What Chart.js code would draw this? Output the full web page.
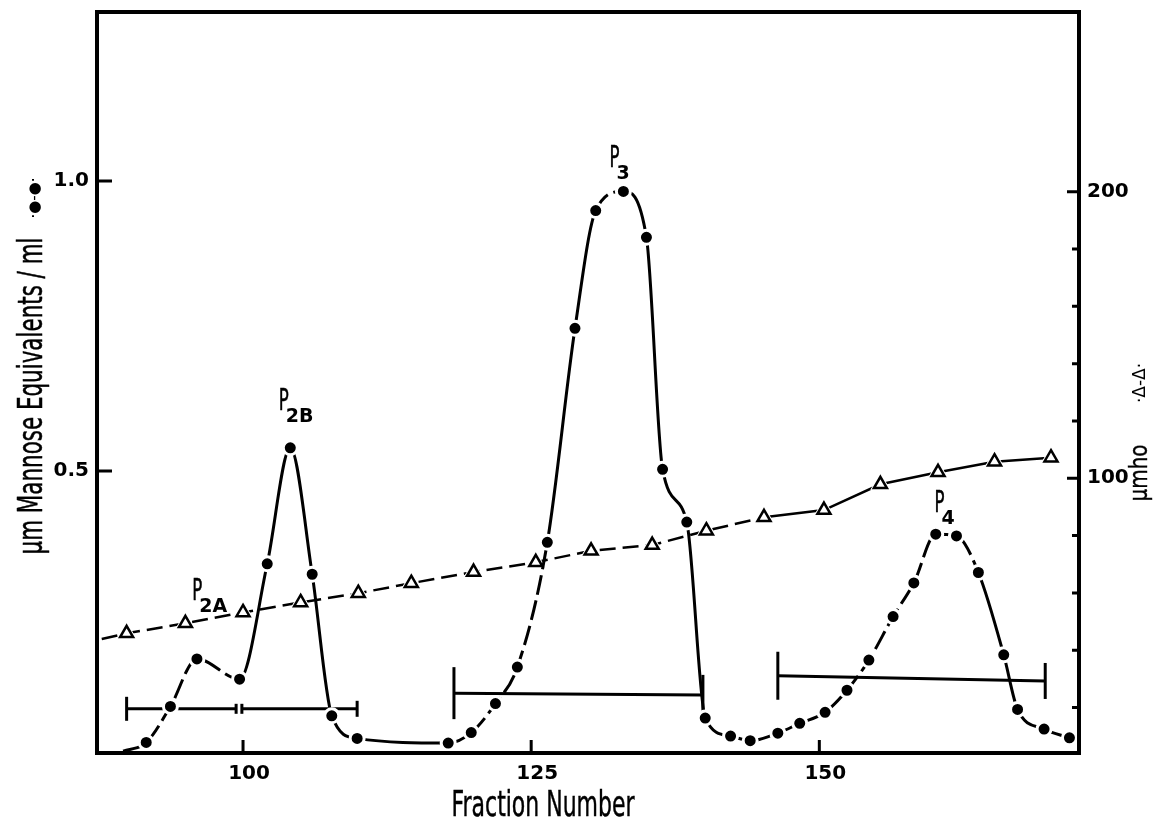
<!DOCTYPE html>
<html>
<head>
<meta charset="utf-8">
<script src="https://cdn.jsdelivr.net/npm/chart.js@4.4.1/dist/chart.umd.min.js"></script>
<style>
  html, body { margin: 0; padding: 0; background: #fff; }
  canvas { display: block; }
</style>
</head>
<body>
<canvas id="chart" width="1153" height="823"></canvas>
<script>
// hexose (mannose equivalents / ml), left axis. first entry is where the curve leaves the axis (no dot)
var fractions = [89.6, 91.6, 93.7, 96.0, 99.7, 102.1, 104.1, 106.0, 107.7, 109.9, 117.8, 119.8, 121.9, 123.8,
  126.4, 128.8, 130.6, 133.0, 135.0, 136.4, 138.5, 140.1, 142.3, 144.0, 146.4, 148.3, 150.5, 152.4, 154.3,
  156.4, 158.2, 160.1, 161.9, 163.8, 166.0, 167.2, 169.5, 171.7];
var mannose = [0.017, 0.032, 0.094, 0.176, 0.141, 0.340, 0.540, 0.322, 0.078, 0.039, 0.031, 0.049, 0.099, 0.162,
  0.377, 0.746, 0.949, 0.982, 0.903, 0.503, 0.412, 0.074, 0.043, 0.035, 0.048, 0.065, 0.084, 0.122, 0.174,
  0.249, 0.307, 0.391, 0.388, 0.325, 0.183, 0.089, 0.055, 0.040];

// conductivity (umho), right axis. first entry again is just the start of the line
var condFractions = [87.74, 89.9, 95.0, 100.0, 105.0, 110.0, 114.6, 120.0, 125.4, 130.2, 135.5, 140.2, 145.2,
  150.4, 155.3, 160.3, 165.2, 170.1];
var conductivity = [43.9, 45.9, 49.4, 53.2, 56.7, 59.9, 63.4, 67.3, 70.7, 74.7, 76.7, 81.7, 86.4,
  88.9, 97.9, 102.1, 105.8, 107.2];

// pooled fractions
var poolFrom = [89.9, 99.9, 118.3, 146.4];
var poolTo = [99.4, 109.9, 139.9, 169.6];
var poolLevelFrom = [0.090, 0.090, 0.117, 0.147];
var poolLevelTo = [0.090, 0.090, 0.114, 0.138];

// peak names
var peakNames = ['2A', '2B', '3', '4'];
var peakX = [95.6, 103.1, 131.8, 160.0];
var peakY = [0.278, 0.605, 1.024, 0.429];

var xTicks = [100, 125, 150];
var leftTicks = [0.5, 1.0];
var rightTicks = [20, 40, 60, 80, 100, 120, 140, 160, 180, 200];
var rightLabels = [100, 200];

var tickFont = { family: '"DejaVu Sans", sans-serif', size: 20, weight: 'bold' };
var capSize = [[12, 5], [5, 8], [26, 20], [24, 18]];

function solidPart(x) {
  return (x >= 99 && x < 118) || (x >= 126 && x < 130) || (x >= 132 && x < 141) || (x >= 163 && x < 167.5);
}

function drawText(ctx, text, x, y, o) {
  ctx.save();
  ctx.font = o.font;
  ctx.textAlign = o.align || 'center';
  ctx.textBaseline = o.baseline || 'middle';
  ctx.translate(x, y);
  if (o.angle) ctx.rotate(o.angle);
  if (o.width) ctx.scale(o.width / ctx.measureText(text).width, 1);
  ctx.fillText(text, 0, 0);
  if (o.heavy) {
    // the lettering in the figure is a bit heavier than the plain face
    ctx.lineWidth = o.heavy;
    ctx.strokeText(text, 0, 0);
  }
  ctx.restore();
}

var paperText = {
  id: 'paperText',
  afterDraw: function(chart) {
    var ctx = chart.ctx;
    var a = chart.chartArea;
    var sx = chart.scales.x, sy = chart.scales.y, sy1 = chart.scales.y1;
    ctx.save();
    ctx.strokeStyle = '#000';
    ctx.fillStyle = '#000';

    ctx.lineWidth = 4;
    ctx.strokeRect(a.left, a.top, a.right - a.left, a.bottom - a.top);

    // ticks point inwards
    ctx.lineWidth = 3;
    ctx.beginPath();
    xTicks.forEach(function(v) {
      var px = sx.getPixelForValue(v);
      ctx.moveTo(px, a.bottom);
      ctx.lineTo(px, a.bottom - 13);
    });
    leftTicks.forEach(function(v) {
      var py = sy.getPixelForValue(v);
      ctx.moveTo(a.left, py);
      ctx.lineTo(a.left + 15, py);
    });
    rightTicks.forEach(function(v) {
      var py = sy1.getPixelForValue(v);
      var len = rightLabels.indexOf(v) >= 0 ? 12 : 7;
      ctx.moveTo(a.right, py);
      ctx.lineTo(a.right - len, py);
    });
    ctx.stroke();

    // axis titles
    var cond = '"DejaVu Sans", sans-serif';
    drawText(ctx, 'Fraction Number', 543, a.bottom + 54, { font: '35px ' + cond, width: 183, heavy: 0.5 });
    drawText(ctx, 'µm Mannose Equivalents / ml', 33, 396, { font: '33px ' + cond, width: 317, angle: -Math.PI / 2, heavy: 0.5 });
    drawText(ctx, '·●-●·', 35, 198, { font: '15px ' + cond, angle: -Math.PI / 2 });
    drawText(ctx, 'µmho', 1140, 473, { font: '25px ' + cond, width: 57, angle: -Math.PI / 2, heavy: 0.4 });
    drawText(ctx, '·Δ-Δ·', 1141, 383, { font: '17px ' + cond, angle: -Math.PI / 2 });

    // peak labels
    for (var i = 0; i < peakNames.length; i++) {
      var px = sx.getPixelForValue(peakX[i]);
      var py = sy.getPixelForValue(peakY[i]);
      drawText(ctx, 'P', px, py, { font: '30px ' + cond, width: 10, align: 'left', baseline: 'alphabetic', heavy: 0.6 });
      drawText(ctx, peakNames[i], px + 7, py + 12, { font: 'bold 19px ' + cond, align: 'left', baseline: 'alphabetic' });
    }
    ctx.restore();
  }
};

var datasets = [];

datasets.push({
  label: 'mannose',
  data: fractions.map(function(f, i) { return { x: f, y: mannose[i] }; }),
  yAxisID: 'y',
  borderColor: '#000',
  borderWidth: 3,
  borderDash: [20, 6],
  cubicInterpolationMode: 'monotone',
  pointRadius: function(c) { return c.dataIndex === 0 ? 0 : 7; },
  pointBackgroundColor: '#000',
  pointBorderColor: '#fff',
  pointBorderWidth: 3,
  segment: {
    borderDash: function(c) { return solidPart(c.p0.parsed.x) ? [] : [20, 6]; }
  },
  order: 0
});

var condPoints = condFractions.map(function(f, i) { return { x: f, y: conductivity[i] }; });

// conductivity line, with white patches where the triangles sit
datasets.push({
  label: 'conductivity',
  data: condPoints,
  yAxisID: 'y1',
  borderColor: '#000',
  borderWidth: 2.5,
  tension: 0,
  pointStyle: 'triangle',
  pointRadius: function(c) { return c.dataIndex === 0 ? 0 : 11; },
  pointBackgroundColor: '#fff',
  pointBorderColor: '#fff',
  pointBorderWidth: 1,
  segment: {
    borderDash: function(c) { return c.p0.parsed.x < 145 ? [16, 7] : []; }
  },
  order: 2
});
datasets.push({
  label: 'conductivity marks',
  data: condPoints,
  yAxisID: 'y1',
  showLine: false,
  pointStyle: 'triangle',
  pointRadius: function(c) { return c.dataIndex === 0 ? 0 : 7.5; },
  pointBackgroundColor: '#fff',
  pointBorderColor: '#000',
  pointBorderWidth: 2.5,
  order: 1
});

for (var i = 0; i < poolFrom.length; i++) {
  datasets.push({
    label: 'pool ' + (i + 1),
    data: [{ x: poolFrom[i], y: poolLevelFrom[i] }, { x: poolTo[i], y: poolLevelTo[i] }],
    yAxisID: 'y',
    borderColor: '#000',
    borderWidth: 3,
    pointStyle: 'line',
    rotation: 90,
    pointRadius: capSize[i],
    pointBorderColor: '#000',
    pointBorderWidth: 3,
    order: 4
  });
}

var chart = new Chart(document.getElementById('chart'), {
  type: 'line',
  data: { datasets: datasets },
  options: {
    responsive: false,
    animation: false,
    events: [],
    layout: { autoPadding: false, padding: { top: 12, left: 0, right: 0, bottom: 0 } },
    plugins: { legend: { display: false }, tooltip: { enabled: false } },
    scales: {
      x: {
        type: 'linear',
        min: 87.33,
        max: 172.53,
        afterBuildTicks: function(s) { s.ticks = xTicks.map(function(v) { return { value: v }; }); },
        afterFit: function(s) { s.height = 70; s.paddingLeft = 0; s.paddingRight = 0; },
        grid: { display: false, drawTicks: false },
        border: { display: false },
        ticks: { padding: 9, labelOffset: 6, maxRotation: 0, color: '#000', font: tickFont,
          callback: function(v) { return String(v); } }
      },
      y: {
        position: 'left',
        min: 0.0138,
        max: 1.2914,
        afterBuildTicks: function(s) { s.ticks = leftTicks.map(function(v) { return { value: v }; }); },
        afterFit: function(s) { s.width = 97; s.paddingTop = 0; s.paddingBottom = 0; },
        grid: { display: false, drawTicks: false },
        border: { display: false },
        ticks: { padding: 8, color: '#000', font: tickFont,
          callback: function(v) { return v.toFixed(1); } }
      },
      y1: {
        position: 'right',
        min: 4.15,
        max: 262.7,
        afterBuildTicks: function(s) { s.ticks = rightTicks.map(function(v) { return { value: v }; }); },
        afterFit: function(s) { s.width = 74; s.paddingTop = 0; s.paddingBottom = 0; },
        grid: { display: false, drawTicks: false },
        border: { display: false },
        ticks: { padding: 8, color: '#000', font: tickFont,
          callback: function(v) { return rightLabels.indexOf(v) >= 0 ? String(v) : ''; } }
      }
    }
  },
  plugins: [paperText]
});
</script>
</body>
</html>
